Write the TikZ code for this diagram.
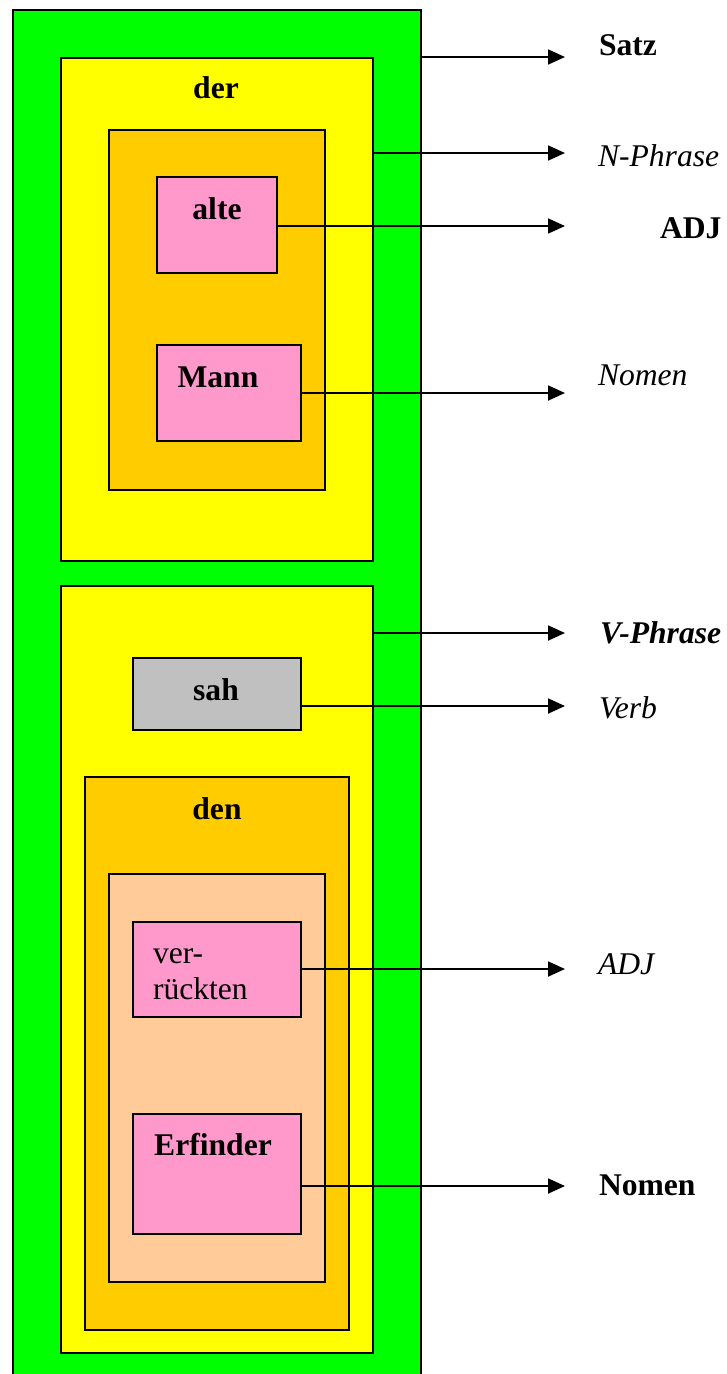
\documentclass[tikz,border=0pt]{standalone}
\usepackage{fontspec}
\setmainfont{Liberation Serif}
\usetikzlibrary{arrows.meta}

\definecolor{cgreen}{HTML}{00FF00}
\definecolor{cyellow}{HTML}{FFFF00}
\definecolor{corange}{HTML}{FFCC00}
\definecolor{cpink}{HTML}{FF99CC}
\definecolor{cgray}{HTML}{C0C0C0}
\definecolor{cpeach}{HTML}{FFCC99}

% box given by left, top, right, bottom (y grows downward)
\newcommand{\constbox}[6]{%
  \node[frame, fill=#2, minimum width={#5pt-#3pt}, minimum height={#6pt-#4pt}]
    (#1) at ({(#3+#5)/2},{(#4+#6)/2}) {};}

\newcommand{\lblsize}{\fontsize{31.6}{36}\selectfont}

\tikzset{
  frame/.style={draw=black, line width=2pt, inner sep=0pt, outer sep=0pt, rectangle},
  word/.style={inner sep=0pt, outer sep=0pt, anchor=base, font=\lblsize\bfseries},
  tag/.style={inner sep=0pt, outer sep=0pt, anchor=base west, font=\lblsize},
  arr/.style={line width=1.8pt, -{Triangle[length=17pt,width=15pt]}},
}

\begin{document}
\begin{tikzpicture}[x=1pt,y=-1pt]
  \useasboundingbox (0,0) rectangle (727,1374);
  \clip (0,0) rectangle (727,1374);

  % nested constituent boxes
  \constbox{satz}{cgreen}{13}{10}{421}{1400}
  \constbox{np}{cyellow}{61}{58}{373}{561}
  \constbox{nbar}{corange}{109}{130}{325}{490}
  \constbox{alte}{cpink}{157}{177}{277}{273}
  \constbox{mann}{cpink}{157}{345}{301}{441}
  \constbox{vp}{cyellow}{61}{586}{373}{1353}
  \constbox{sah}{cgray}{133}{658}{301}{730}
  \constbox{obj}{corange}{85}{777}{349}{1330}
  \constbox{objbar}{cpeach}{109}{874}{325}{1282}
  \constbox{verr}{cpink}{133}{922}{301}{1017}
  \constbox{erf}{cpink}{133}{1114}{301}{1234}

  % words inside the boxes
  \node[word] (wder) at (216,98) {der};
  \node[word] (walte) at (217,219) {alte};
  \node[word] (wmann) at (218,387) {Mann};
  \node[word] (wsah) at (216,700) {sah};
  \node[word] (wden) at (217,819) {den};
  \node[word] (werf) at (213,1155) {Erfinder};
  \node[tag] (wver1) at (153,963) {ver-};
  \node[tag] (wver2) at (153,999) {rückten};

  % arrow tips
  \coordinate (tsatz) at (565,57);
  \coordinate (tnp) at (565,153);
  \coordinate (tadj1) at (565,226);
  \coordinate (tnom1) at (565,393);
  \coordinate (tvp) at (565,633);
  \coordinate (tverb) at (565,706);
  \coordinate (tadj2) at (565,969);
  \coordinate (tnom2) at (565,1186);

  % category labels
  \node[tag, font=\lblsize\bfseries] (lsatz) at (599,55) {Satz};
  \node[tag, font=\lblsize\itshape] (lnp) at (598,166) {N-Phrase};
  \node[tag, font=\lblsize\bfseries] (ladj1) at (660,238) {ADJ};
  \node[tag, font=\lblsize\itshape] (lnom1) at (598,385) {Nomen};
  \node[tag, font=\lblsize\bfseries\itshape] (lvp) at (600,643) {V-Phrase};
  \node[tag, font=\lblsize\itshape] (lverb) at (599,718) {Verb};
  \node[tag, font=\lblsize\itshape] (ladj2) at (598,974) {ADJ};
  \node[tag, font=\lblsize\bfseries] (lnom2) at (599,1195) {Nomen};

  % connectors from boxes to their labels
  \draw[arr] (tsatz -| satz.east) -- (tsatz);
  \draw[arr] (tnp -| np.east) -- (tnp);
  \draw[arr] (tadj1 -| alte.east) -- (tadj1);
  \draw[arr] (tnom1 -| mann.east) -- (tnom1);
  \draw[arr] (tvp -| vp.east) -- (tvp);
  \draw[arr] (tverb -| sah.east) -- (tverb);
  \draw[arr] (tadj2 -| verr.east) -- (tadj2);
  \draw[arr] (tnom2 -| erf.east) -- (tnom2);
\end{tikzpicture}
\end{document}
